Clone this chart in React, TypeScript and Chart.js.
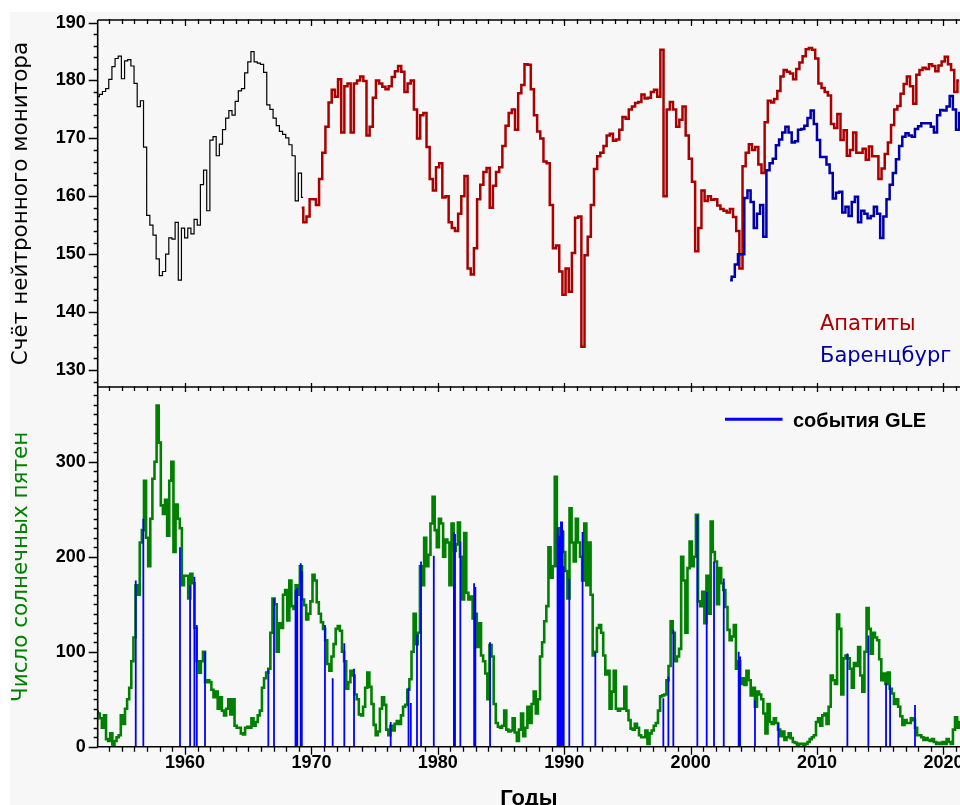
import { useEffect, useRef } from "react";
import { Chart, registerables } from "chart.js";

Chart.register(...registerables);

// Sampling intervals, in years
const QUARTER = 0.25; // neutron monitor series
const TWO_MONTHS = 1 / 6; // sunspot series

// Neutron monitor counts before the Apatity record (thin black line)
const earlyStart = 1953.09;
const earlyCounts = [
  177.2, 177.6, 178.1, 178.6, 180.2, 182.4, 183.8, 184.2, 180.3, 183.4,
  183.6, 182.5, 179.5, 175.5, 176.5, 168.5, 156.7, 155, 153.3, 149.2,
  146.3, 147, 150, 152.8, 152.6, 155.5, 145.5, 154.5, 152.8, 154.5,
  153.5, 156, 155, 162, 164.5, 157.5, 169.7, 170.3, 167, 169,
  171.5, 173.5, 174.8, 174, 176.4, 178.2, 178.6, 181.3, 183.2, 185,
  183.2, 183, 182.8, 181.4, 175.8, 175, 173.5, 172.2, 171.2, 170.7,
  170.1, 168.9, 167, 159.2, 164, 159.8,
];

// Apatity neutron monitor
const apatityStart = 1969.23;
const apatityCounts = [
  158, 155.5, 156.5, 159.5, 159.5, 158.5, 163, 167.5, 172, 176.2,
  178.4, 177.2, 180.2, 171, 179, 179.5, 171, 179.5, 180, 180.7,
  179.9, 170.5, 172, 177, 180, 179.5, 178.9, 178.5, 179, 180.6,
  181.6, 182.5, 181.5, 178, 179.5, 180, 175, 170, 174, 174.4,
  168.5, 163, 161, 165, 165.7, 159.8, 160, 155.5, 154.5, 154,
  157, 160, 163.5, 147.5, 146.5, 151, 159.5, 162, 164.2, 164.9,
  158, 161.8, 164.2, 165, 168.7, 172.2, 174.4, 175, 171.5, 177.8,
  179.2, 182.8, 182.7, 178.5, 174, 171.2, 170, 166, 165.7, 158.5,
  151, 151.5, 147, 143, 147.5, 143.5, 150.2, 156.3, 156.5, 134,
  149.8, 153, 158.5, 164.7, 166.9, 167.5, 168.7, 170.5, 170.8, 169.6,
  169.8, 171.5, 173.7, 173.4, 175, 175.5, 176.1, 176.3, 177.6, 176.9,
  177, 178, 178.4, 177.2, 185.3, 160, 175, 176.3, 175, 172,
  173.2, 175.5, 170.5, 166.5, 162.5, 150.5, 154.5, 161, 159.2, 160,
  159.4, 159.5, 158.4, 157.8, 157.5, 157.2, 157.8, 156.4, 154, 147.5,
  165.2, 167.5, 169, 168, 168.5, 165.5, 164, 172.8, 176.5, 176.2,
  176.8, 178.2, 180.7, 181.8, 181.5, 181.2, 180.2, 182, 183.1, 184.2,
  185.4, 185.6, 185.3, 183.8, 179.5, 178.7, 178, 177.4, 172.5, 171.8,
  174.2, 169.7, 171.4, 167, 168, 171, 167.5, 167.5, 168.2, 166.3,
  168.6, 166.9, 166.9, 163, 164.8, 167.3, 169.3, 172.3, 175, 175.6,
  177.7, 179.4, 180.7, 179, 176, 181, 181.8, 182.2, 182, 182.8,
  182.5, 181.6, 182.6, 183.3, 184.1, 182.8, 181.8, 178, 180,
];

// Barentsburg neutron monitor
const barentsburgStart = 2003.12;
const barentsburgCounts = [
  145.5, 146.1, 148.2, 150, 150, 159.7, 161, 159, 154.5, 157,
  158.5, 153, 164.5, 165.7, 166.5, 168.8, 169.8, 171, 172, 171,
  169.3, 169.5, 171.5, 171.6, 172.2, 173.5, 174.8, 172.5, 169.7, 166.8,
  166.8, 165.5, 164, 159.6, 160.6, 160.8, 157.2, 158.2, 156.6, 159,
  159.9, 155.5, 157.5, 157, 156.2, 156.6, 158.2, 157, 152.8, 156.5,
  159.5, 162, 164, 166.4, 168.7, 170.3, 170.9, 170.5, 170.3, 171.6,
  172.1, 172.6, 172.6, 172.6, 172, 171, 174, 174.9, 174.8, 175.5,
  177.3, 175, 171.5, 174.4,
];

// Sunspot number, two-month values
const sunspotStart = 1953.0;
const sunspots = [
  37, 35, 30, 20, 33, 8, 6, 14, 2, 6,
  10, 12, 33, 24, 40, 50, 62, 90, 115, 170,
  160, 215, 228, 280, 220, 190, 240, 282, 300, 359,
  320, 254, 245, 260, 222, 280, 300, 205, 255, 240,
  230, 170, 180, 180, 156, 182, 172, 125, 90, 78,
  90, 100, 68, 70, 68, 60, 52, 58, 40, 52,
  38, 33, 40, 50, 34, 50, 22, 20, 20, 14,
  13, 20, 21, 20, 30, 22, 26, 33, 38, 62,
  72, 78, 82, 120, 156, 150, 100, 130, 125, 160,
  165, 133, 175, 148, 145, 170, 160, 190, 155, 149,
  134, 140, 153, 181, 175, 152, 140, 131, 124, 112,
  87, 80, 95, 108, 124, 127, 122, 100, 90, 61,
  68, 80, 75, 55, 50, 34, 33, 42, 62, 78,
  63, 45, 23, 12, 16, 40, 52, 44, 18, 12,
  22, 17, 24, 27, 24, 33, 42, 44, 60, 71,
  100, 140, 108, 120, 190, 170, 220, 190, 202, 235,
  263, 228, 210, 240, 235, 200, 218, 215, 170, 235,
  206, 213, 236, 200, 155, 225, 162, 155, 158, 135,
  140, 105, 130, 96, 90, 77, 50, 107, 95, 45,
  25, 21, 20, 22, 38, 18, 16, 17, 30, 15,
  6, 18, 35, 11, 20, 42, 25, 45, 58, 35,
  50, 95, 110, 132, 148, 210, 178, 190, 284, 190,
  230, 226, 205, 185, 156, 251, 215, 195, 240, 215,
  200, 175, 235, 170, 215, 160, 96, 100, 125, 128,
  120, 96, 76, 80, 40, 58, 80, 40, 38, 40,
  40, 63, 38, 28, 19, 18, 24, 20, 12, 10,
  10, 17, 3, 14, 17, 22, 25, 38, 53, 54,
  55, 70, 85, 132, 120, 90, 95, 103, 200, 175,
  120, 188, 216, 190, 200, 244, 153, 148, 163, 130,
  180, 140, 237, 205, 195, 150, 188, 172, 165, 147,
  123, 112, 116, 128, 82, 90, 66, 72, 65, 80,
  70, 54, 62, 42, 58, 55, 50, 35, 14, 45,
  26, 24, 30, 25, 18, 11, 16, 7, 10, 14,
  9, 5, 4, 2, 3, 3, 2, 3, 5, 8,
  10, 12, 26, 30, 22, 33, 35, 24, 42, 75,
  70, 66, 139, 124, 55, 93, 96, 93, 82, 62,
  88, 85, 105, 75, 58, 100, 146, 124, 98, 120,
  115, 112, 92, 70, 77, 66, 78, 61, 56, 45,
  50, 42, 32, 23, 28, 25, 25, 30, 28, 20,
  12, 12, 10, 7, 9, 7, 6, 8, 5, 3,
  4, 3, 5, 3, 8, 5, 3, 18, 31, 20, 26,
];

// Ground level enhancement events: date (decimal year) and sunspot level reached by the marker
const gleYears = [
  1956.1, 1956.7, 1959.6, 1960.4, 1960.74, 1960.93, 1961.58, 1966.59, 1967.04, 1968.74,
  1968.88, 1969.15, 1969.24, 1971.07, 1971.68, 1972.6, 1973.37, 1976.27, 1977.68, 1977.86,
  1978.35, 1978.67, 1979.68, 1981.27, 1981.36, 1981.78, 1982.87, 1982.97, 1984.13, 1989.47,
  1989.56, 1989.62, 1989.74, 1989.79, 1989.83, 1989.88, 1989.96, 1990.4, 1991.45, 1992.46,
  1997.84, 1998.24, 1998.63, 2000.53, 2001.27, 2001.85, 2002.62, 2003.8, 2003.91, 2005.09,
  2006.94, 2012.4, 2014.06, 2015.46, 2015.78, 2017.75,
];
const gleTops = [
  175, 240, 210, 170, 179, 128, 100, 81, 156, 165,
  167, 193, 185, 128, 72, 109, 82, 26, 62, 46,
  118, 195, 201, 226, 224, 216, 172, 168, 110, 231,
  215, 222, 237, 232, 237, 228, 190, 177, 226, 100,
  51, 74, 123, 244, 163, 195, 177, 100, 95, 49,
  25, 98, 117, 67, 65, 44,
];

// Axis ranges and labelled ticks
const yearMin = 1953.09;
const yearMax = 2021.31;
const yearLabels = [1960, 1970, 1980, 1990, 2000, 2010, 2020];
const countMin = 127.05;
const countMax = 190.45;
const countLabels = [130, 140, 150, 160, 170, 180, 190];
const sunspotMax = 378.6;
const sunspotLabels = [0, 100, 200, 300];

const RED = "#aa0000";
const DARK_BLUE = "#0000aa";
const GREEN = "#008000";
const GLE_BLUE = "#0000ff";

const toPoints = (start: number, step: number, values: number[]) =>
  values.map((v, i) => ({ x: start + i * step, y: v }));

const glePoints = gleYears.flatMap((yr, i) => [
  { x: yr, y: 0 },
  { x: yr, y: gleTops[i] },
  { x: yr, y: null as number | null },
]);

const tickFont = { family: "'Liberation Sans', Arial, sans-serif", size: 18, weight: "bold" as const };
const titleFont = { family: "'DejaVu Sans', sans-serif", size: 21.5 };

// Scale boxes keep a fixed size and do not push the plot area around
const fixWidth = (w: number) => (s: any) => {
  s.width = w;
  s.paddingTop = 0;
  s.paddingBottom = 0;
  s.paddingLeft = 0;
  s.paddingRight = 0;
};
const fixHeight = (h: number) => (s: any) => {
  s.height = h;
  s.paddingTop = 0;
  s.paddingBottom = 0;
  s.paddingLeft = 0;
  s.paddingRight = 0;
};

// Frame lines, minor/major tick marks and the in-plot legends
const framePlugin = {
  id: "panelFrame",
  afterDatasetsDraw(chart: any) {
    const { ctx, chartArea: a, scales } = chart;
    const xs = scales.x;
    const yN = scales.yN;
    const yS = scales.yS;
    const mid = yN.bottom;
    ctx.save();
    ctx.strokeStyle = "#000";
    ctx.lineWidth = 1.6;
    ctx.beginPath();
    ctx.moveTo(a.left, a.top);
    ctx.lineTo(a.right, a.top);
    ctx.moveTo(a.left, mid);
    ctx.lineTo(a.right, mid);
    ctx.moveTo(a.left, a.bottom);
    ctx.lineTo(a.right, a.bottom);
    ctx.moveTo(a.left, a.top);
    ctx.lineTo(a.left, a.bottom + 0.8);
    ctx.stroke();

    ctx.lineWidth = 1.3;
    ctx.beginPath();
    for (let yr = Math.ceil(xs.min); yr <= xs.max; yr++) {
      const px = Math.round(xs.getPixelForValue(yr)) + 0.5;
      const major = yr % 10 === 0;
      ctx.moveTo(px, a.top - 1);
      ctx.lineTo(px, a.top + (major ? 6 : 4));
      ctx.moveTo(px, mid - (major ? 4 : 1));
      ctx.lineTo(px, mid + (major ? 5 : 4));
      ctx.moveTo(px, a.bottom);
      ctx.lineTo(px, a.bottom + (major ? 8 : 5));
    }
    for (let v = Math.ceil(yN.min / 2) * 2; v <= yN.max; v += 2) {
      const py = Math.round(yN.getPixelForValue(v)) + 0.5;
      ctx.moveTo(a.left - (v % 10 === 0 ? 9 : 4), py);
      ctx.lineTo(a.left, py);
    }
    for (let v = 0; v <= yS.max; v += 10) {
      const py = Math.round(yS.getPixelForValue(v)) + 0.5;
      ctx.moveTo(a.left - (v % 100 === 0 ? 9 : 4), py);
      ctx.lineTo(a.left, py);
    }
    ctx.stroke();

    // station legend (top panel)
    ctx.font = "21px 'DejaVu Sans', sans-serif";
    ctx.textAlign = "left";
    ctx.textBaseline = "alphabetic";
    ctx.fillStyle = RED;
    ctx.fillText("Апатиты", 810, 318);
    ctx.fillStyle = DARK_BLUE;
    ctx.fillText("Баренцбург", 810, 349.5);

    // GLE legend (bottom panel)
    ctx.strokeStyle = GLE_BLUE;
    ctx.lineWidth = 3;
    ctx.beginPath();
    ctx.moveTo(715, 407.3);
    ctx.lineTo(772.5, 407.3);
    ctx.stroke();
    ctx.fillStyle = "#000";
    ctx.font = "bold 20px 'Liberation Sans', Arial, sans-serif";
    ctx.fillText("события GLE", 783, 414.5);
    ctx.restore();
  },
};

export default function App() {
  const ref = useRef<HTMLCanvasElement>(null);

  useEffect(() => {
    const canvas = ref.current;
    if (!canvas) return;
    const chart = new Chart(canvas, {
      type: "line",
      data: {
        datasets: [
          {
            label: "события GLE",
            data: glePoints as any,
            yAxisID: "yS",
            borderColor: GLE_BLUE,
            borderWidth: 1.8,
            pointRadius: 0,
            spanGaps: false,
          },
          {
            label: "Число солнечных пятен",
            data: toPoints(sunspotStart, TWO_MONTHS, sunspots),
            yAxisID: "yS",
            borderColor: GREEN,
            borderWidth: 2.6,
            pointRadius: 0,
            stepped: "middle",
          },
          {
            label: "Баренцбург",
            data: toPoints(barentsburgStart, QUARTER, barentsburgCounts),
            yAxisID: "yN",
            borderColor: DARK_BLUE,
            borderWidth: 2.5,
            pointRadius: 0,
            stepped: "middle",
          },
          {
            label: "Апатиты",
            data: toPoints(apatityStart, QUARTER, apatityCounts),
            yAxisID: "yN",
            borderColor: RED,
            borderWidth: 2.5,
            pointRadius: 0,
            stepped: "middle",
          },
          {
            label: "early",
            data: toPoints(earlyStart, QUARTER, earlyCounts),
            yAxisID: "yN",
            borderColor: "#000",
            borderWidth: 1.2,
            pointRadius: 0,
            stepped: "middle",
          },
        ],
      },
      options: {
        responsive: false,
        animation: false,
        devicePixelRatio: 1,
        events: [],
        layout: { padding: { top: 8, left: 0, right: 0, bottom: 0 }, autoPadding: false },
        plugins: { legend: { display: false }, tooltip: { enabled: false } },
        scales: {
          x: {
            type: "linear",
            position: "bottom",
            min: yearMin,
            max: yearMax,
            afterBuildTicks: (s: any) => {
              s.ticks = yearLabels.map((v) => ({ value: v }));
            },
            afterFit: fixHeight(58.3),
            ticks: {
              font: tickFont,
              color: "#000",
              padding: 6,
              maxRotation: 0,
              autoSkip: false,
              callback: (v: any) => String(v),
            },
            grid: { display: false, drawTicks: false },
            border: { display: false },
            title: {
              display: true,
              text: "Годы",
              color: "#000",
              font: { family: "'Liberation Sans', Arial, sans-serif", size: 22, weight: "bold" },
              padding: { top: 0, bottom: -7 },
            },
          },
          yS: {
            type: "linear",
            position: "left",
            stack: "panels",
            stackWeight: 359.7,
            min: 0,
            max: sunspotMax,
            afterBuildTicks: (s: any) => {
              s.ticks = sunspotLabels.map((v) => ({ value: v }));
            },
            afterFit: fixWidth(87.7),
            ticks: { font: tickFont, color: "#000", padding: 12, callback: (v: any) => String(v) },
            grid: { display: false, drawTicks: false },
            border: { display: false },
            title: {
              display: true,
              text: "Число солнечных пятен",
              color: GREEN,
              font: titleFont,
              padding: { top: -1, bottom: 0 },
            },
          },
          yN: {
            type: "linear",
            position: "left",
            stack: "panels",
            stackWeight: 367,
            min: countMin,
            max: countMax,
            afterBuildTicks: (s: any) => {
              s.ticks = countLabels.map((v) => ({ value: v }));
            },
            afterFit: fixWidth(87.7),
            ticks: { font: tickFont, color: "#000", padding: 12, callback: (v: any) => String(v) },
            grid: { display: false, drawTicks: false },
            border: { display: false },
            title: {
              display: true,
              text: "Счёт нейтронного монитора",
              color: "#000",
              font: titleFont,
              padding: { top: -1, bottom: 0 },
            },
          },
        },
      },
      plugins: [framePlugin],
    } as any);
    return () => chart.destroy();
  }, []);

  return (
    <div style={{ position: "fixed", left: 0, top: 0, width: 960, height: 805, background: "#ffffff", overflow: "hidden" }}>
      <div style={{ position: "absolute", left: 10, top: 12, width: 950, height: 793, background: "#f7f7f7" }}>
        <canvas ref={ref} width={950} height={793} style={{ display: "block" }} />
      </div>
    </div>
  );
}
